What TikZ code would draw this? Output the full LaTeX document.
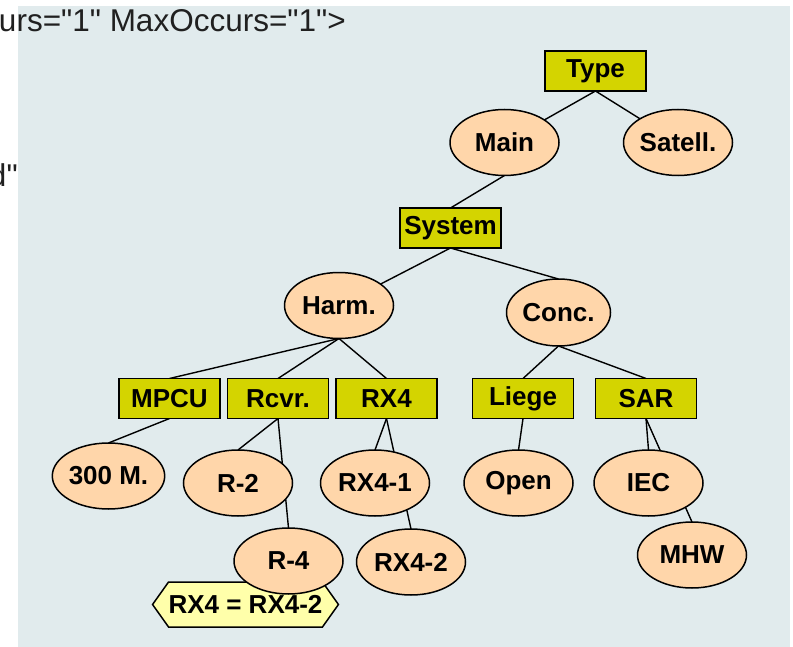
\documentclass[tikz,border=0pt]{standalone}
\usepackage{fontspec}
\setmainfont{Liberation Sans}
\newfontfamily\codefont{Liberation Sans}[Ligatures=TeXOff]
\usetikzlibrary{shapes.geometric,calc}
\pgfdeclarelayer{bglayer}
\pgfdeclarelayer{edgelayer}
\pgfsetlayers{bglayer,edgelayer,main}
\definecolor{panel}{RGB}{225,235,237}
\definecolor{boxfill}{RGB}{212,212,0}
\definecolor{ovalfill}{RGB}{255,214,170}
\definecolor{hexfill}{RGB}{255,255,170}
\definecolor{textdark}{RGB}{32,32,32}
\begin{document}
\begin{tikzpicture}[x=1bp,y=-1bp,
  lbl/.style={font=\fontsize{26bp}{26bp}\selectfont\bfseries},
  box/.style={lbl, draw=black, line width=1.6bp, fill=boxfill, minimum width=101bp, minimum height=40bp, inner sep=0pt, outer sep=0pt},
  oval/.style={lbl, ellipse, draw=black, line width=1.5bp, fill=ovalfill, minimum width=109bp, minimum height=66bp, inner sep=0pt, outer sep=0pt},
  link/.style={draw=black, line width=1.4bp},
  codetext/.style={anchor=base west, inner sep=0pt, outer sep=0pt, text=textdark, font=\codefont\fontsize{31.5bp}{31.5bp}\selectfont},
]
\useasboundingbox (0,0) rectangle (793,647);
\clip (0,0) rectangle (793,647);
\begin{pgfonlayer}{bglayer}
  \fill[panel] (18,6) rectangle (790,647);
\end{pgfonlayer}

% code fragments
\node[codetext] (hdr) at (-1,32) {urs="1" MaxOccurs="1">};
\node[codetext] (frag) at (-11,187) {d"};

% tree nodes
\node[box] (Type) at (595.5,71) {Type};
\node[oval] (Main) at (504.5,142.5) {Main};
\node[oval] (Satell) at (678,142.5) {Satell.};
\node[box] (System) at (450.5,228) {System};
\node[oval] (Harm) at (339,305.5) {Harm.};
\node[oval, minimum width=104bp, minimum height=67bp] (Conc) at (558.5,312.5) {Conc.};
\node[box] (MPCU) at (169.5,398.5) {MPCU};
\node[box] (Rcvr) at (278,398.5) {Rcvr.};
\node[box] (RXfour) at (386.5,398.5) {RX4};
\node[box] (Liege) at (523,398.5) {Liege};
\node[box] (SAR) at (646,398.5) {SAR};
\node[oval] (M300) at (108.5,476) {300 M.};
\node[oval] (Rtwo) at (238,483) {R-2};
\node[oval] (RXone) at (375,483) {RX4-1};
\node[oval] (Open) at (518.5,483) {Open};
\node[oval] (IEC) at (648.5,483) {IEC};
\node[lbl, inner sep=0pt, outer sep=0pt, minimum width=151bp, minimum height=45bp] (eq) at (245.5,604.5) {RX4 = RX4-2};
\node[oval] (Rfour) at (288.5,561) {R-4};
\node[oval] (RXtwo) at (411,562) {RX4-2};
\node[oval] (MHW) at (692,555) {MHW};

\begin{pgfonlayer}{edgelayer}
  \filldraw[fill=hexfill, draw=black, line width=1.5bp]
    (eq.north west) -- (eq.north east) -- ($(eq.east)+(16,0)$) -- (eq.south east)
    -- (eq.south west) -- ($(eq.west)+(-16,0)$) -- cycle;
  \draw[link] (Type.south) -- (Main);
  \draw[link] (Type.south) -- (Satell);
  \draw[link] (Main.south) -- (System.north);
  \draw[link] (System.south) -- (Harm);
  \draw[link] (System.south) -- (Conc.north);
  \draw[link] (Harm.south) -- (MPCU.north);
  \draw[link] (Harm.south) -- (Rcvr.north);
  \draw[link] (Harm.south) -- (RXfour.north);
  \draw[link] (Conc.south) -- (Liege.north);
  \draw[link] (Conc.south) -- (SAR.north);
  \draw[link] (MPCU.south) -- (M300.north);
  \draw[link] (Rcvr.south) -- (Rtwo.north);
  \draw[link] (Rcvr.south) -- (Rfour.north);
  \draw[link] (RXfour.south) -- (RXone.north);
  \draw[link] (RXfour.south) -- (RXtwo.north);
  \draw[link] (Liege.south) -- (Open.north);
  \draw[link] (SAR.south) -- (IEC.north);
  \draw[link] (SAR.south) -- (MHW.north);
\end{pgfonlayer}
\end{tikzpicture}
\end{document}
